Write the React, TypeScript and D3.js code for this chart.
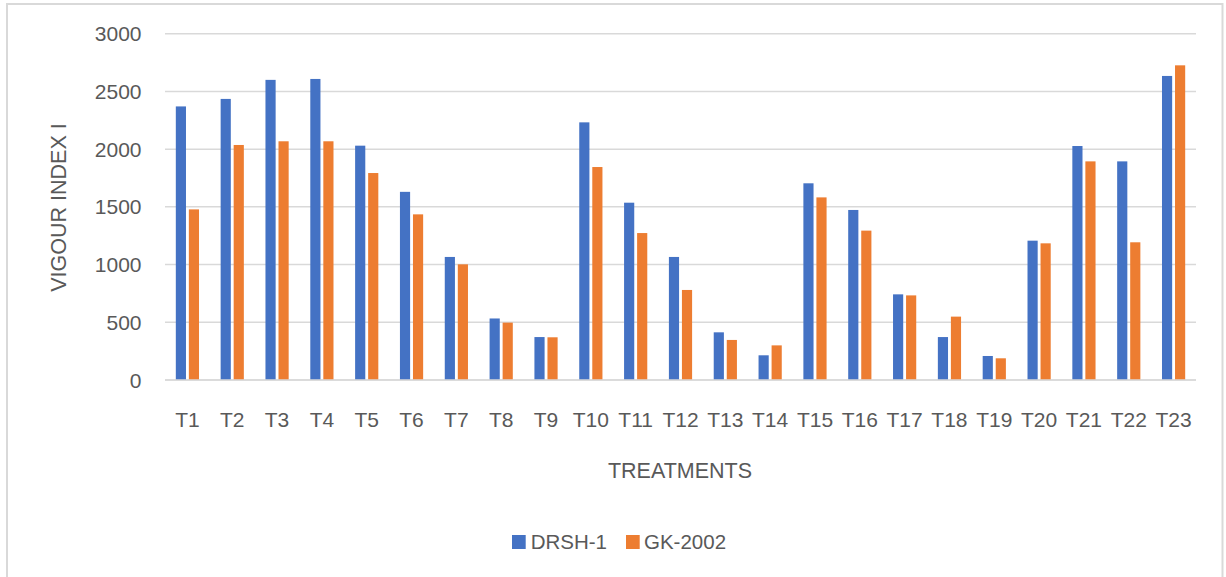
import React from "react";
import * as d3 from "d3";

const categories = ["T1","T2","T3","T4","T5","T6","T7","T8","T9","T10","T11","T12","T13","T14","T15","T16","T17","T18","T19","T20","T21","T22","T23"];
const drsh1 = [2370,2435,2600,2608,2030,1630,1066,533,372,2232,1536,1066,413,214,1704,1473,742,372,208,1207,2027,1894,2634];
const gk2002 = [1478,2036,2068,2068,1793,1435,1002,497,370,1845,1273,780,347,300,1582,1294,733,549,188,1184,1894,1193,2726];
const yTicks = [0,500,1000,1500,2000,2500,3000];
const seriesNames = ["DRSH-1","GK-2002"];
const seriesColors = ["#4472C4","#ED7D31"];

const W = 1226, H = 577;
const FONT = "'Liberation Sans', Arial, sans-serif";
const TXT = "#595959";

export default function App() {
  const x = d3.scaleBand<string>().domain(categories).range([165, 1196]).paddingInner(0).paddingOuter(0);
  const group = 23.2;
  const xs = d3.scaleBand<string>().domain(seriesNames).range([(x.bandwidth() - group) / 2, (x.bandwidth() + group) / 2]).paddingInner(0.22);
  const y = d3.scaleLinear().domain([0, 3000]).range([380, 33.7]);
  const series = [drsh1, gk2002];

  return (
    <svg width={W} height={H} style={{ position: "absolute", left: 0, top: 0, background: "#fff" }} fontFamily={FONT}>
      <rect x={0} y={0} width={W} height={H} fill="#fff" />
      <rect x={7} y={4} width={1215.5} height={600} fill="#fff" stroke="#d9d9d9" strokeWidth={2} />
      {yTicks.map((t) => (
        <g key={t}>
          <line x1={165} x2={1196} y1={y(t)} y2={y(t)} stroke="#d9d9d9" strokeWidth={1.5} />
          <text x={141.5} y={y(t)} dy="0.36em" textAnchor="end" fontSize={21} fill={TXT}>{t}</text>
        </g>
      ))}
      {categories.map((c, i) => (
        <g key={c}>
          {series.map((s, k) => (
            <rect
              key={k}
              x={(x(c) as number) + (xs(seriesNames[k]) as number)}
              y={y(s[i])}
              width={xs.bandwidth()}
              height={y(0) - y(s[i])}
              fill={seriesColors[k]}
            />
          ))}
          <text x={(x(c) as number) + x.bandwidth() / 2} y={419.5} dy="0.36em" textAnchor="middle" fontSize={21} fill={TXT}>{c}</text>
        </g>
      ))}
      <line x1={165} x2={1196} y1={y(0)} y2={y(0)} stroke="#d9d9d9" strokeWidth={1.5} />
      <text x={680} y={470} dy="0.36em" textAnchor="middle" fontSize={21.5} fill={TXT}>TREATMENTS</text>
      <text transform="translate(58.3,207.5) rotate(-90)" dy="0.36em" textAnchor="middle" fontSize={21.5} fill={TXT}>VIGOUR INDEX I</text>
      <g>
        <rect x={512} y={535} width={13.7} height={14} fill={seriesColors[0]} />
        <text x={530.7} y={542} dy="0.36em" fontSize={20.5} fill={TXT}>{seriesNames[0]}</text>
        <rect x={626} y={535} width={13.7} height={14} fill={seriesColors[1]} />
        <text x={644} y={542} dy="0.36em" fontSize={20.5} fill={TXT}>{seriesNames[1]}</text>
      </g>
    </svg>
  );
}
